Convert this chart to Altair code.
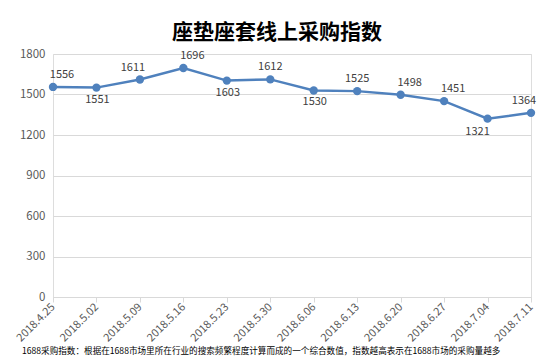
import altair as alt
import pandas as pd

dates = ["2018.4.25", "2018.5.02", "2018.5.09", "2018.5.16", "2018.5.23", "2018.5.30",
         "2018.6.06", "2018.6.13", "2018.6.20", "2018.6.27", "2018.7.04", "2018.7.11"]
values = [1556, 1551, 1611, 1696, 1603, 1612, 1530, 1525, 1498, 1451, 1321, 1364]
label_side = ["above_r", "below", "above_l", "above_r", "below", "above",
              "below", "above", "above_r", "above_r", "below_l", "above_l"]
y_ticks = [0, 300, 600, 900, 1200, 1500, 1800]
title_text = "座垫座套线上采购指数"
note_text = "1688采购指数：根据在1688市场里所在行业的搜索频繁程度计算而成的一个综合数值，指数越高表示在1688市场的采购量越多"

df = pd.DataFrame({"date": dates, "value": values, "side": label_side})

FONT = "Noto Sans CJK SC"
BLUE = "#4f81bd"
GRID = "#d9d9d9"
TXT = "#595959"

x = alt.X("date:O", sort=dates, scale=alt.Scale(type="point", padding=0),
          axis=alt.Axis(title=None, labelAngle=-45, labelAlign="right", labelBaseline="middle",
                        labelPadding=3, labelFontSize=11, labelColor=TXT, labelFont=FONT,
                        tickSize=5, tickColor=GRID, domainColor=GRID, grid=False))
y = alt.Y("value:Q", scale=alt.Scale(domain=[0, 1800], nice=False),
          axis=alt.Axis(title=None, values=y_ticks, format="d", labelFontSize=11.5, labelColor=TXT,
                        labelFont=FONT, labelPadding=8, domain=False, ticks=False,
                        gridColor=GRID, gridWidth=1))

base = alt.Chart(df)
line = base.mark_line(color=BLUE, strokeWidth=2.5).encode(x=x, y=y)
pts = base.mark_point(color=BLUE, filled=True, opacity=1, size=70).encode(x=x, y=y)

offsets = {"above": (0, -12), "above_r": (9, -12), "above_l": (-7, -12),
           "below": (1, 12), "below_l": (-10, 13)}
labels = []
for side, (ddx, ddy) in offsets.items():
    labels.append(
        base.transform_filter(alt.datum.side == side)
        .mark_text(dx=ddx, dy=ddy, fontSize=11, font=FONT, color="#404040", baseline="middle")
        .encode(x=alt.X("date:O", sort=dates), y=alt.Y("value:Q"), text=alt.Text("value:Q"))
    )

note = alt.Chart(pd.DataFrame({"t": [note_text]})).mark_text(
    align="left", baseline="middle", fontSize=8.6, font=FONT, color="#000000"
).encode(x=alt.value(-31), y=alt.value(297), text="t:N")

chart = alt.layer(line, pts, *labels, note).properties(
    width=478, height=243,
    autosize=alt.AutoSizeParams(type="none"),
    padding={"left": 45, "top": 46, "right": 13, "bottom": 59},
    title=alt.TitleParams(title_text, font=FONT, fontSize=21, fontWeight="bold",
                          color="#000000", anchor="middle", dx=-15, offset=5),
).configure_view(stroke=None).configure(background="white")

chart.save("out.html", embed_options={"renderer": "svg", "actions": False})
